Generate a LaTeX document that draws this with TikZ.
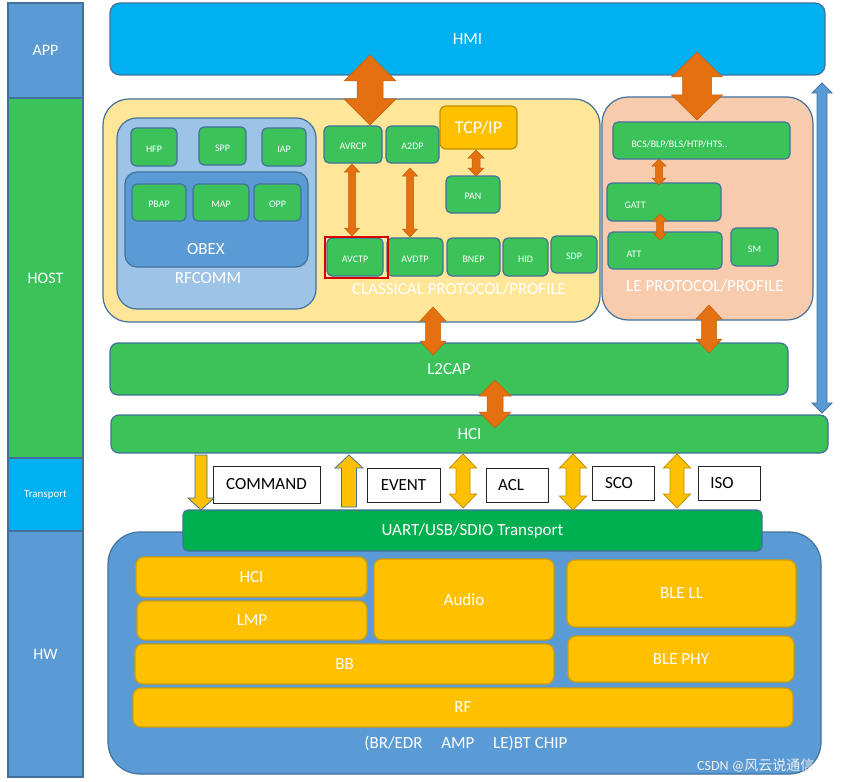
\documentclass[tikz,border=0pt]{standalone}
\usepackage{fontspec}
\setmainfont{Carlito}
\newfontfamily\cjk{Noto Sans CJK SC}
\definecolor{bord}{HTML}{41719C}
\definecolor{blueA}{HTML}{5B9BD5}
\definecolor{greenA}{HTML}{3BC35A}
\definecolor{cyanA}{HTML}{00B0F0}
\definecolor{uartG}{HTML}{00B050}
\definecolor{yelC}{HTML}{FFE699}
\definecolor{peach}{HTML}{F8CBAD}
\definecolor{rfc}{HTML}{9DC3E6}
\definecolor{gold}{HTML}{FFC000}
\definecolor{goldB}{HTML}{BF9000}
\definecolor{orangeA}{HTML}{E5700F}
\newcommand\bx[7]{\node[#6,anchor=north west,minimum width={#4pt-#2pt},minimum height={#5pt-#3pt}] (#1) at (#2,#3) {#7};}
\newcommand\dbar[7]{\filldraw[#7] ({#1-#4},{#2+#6}) -- ({#1-#5},{#2+#6}) -- (#1,#2) -- ({#1+#5},{#2+#6}) -- ({#1+#4},{#2+#6}) -- ({#1+#4},{#3-#6}) -- ({#1+#5},{#3-#6}) -- (#1,#3) -- ({#1-#5},{#3-#6}) -- ({#1-#4},{#3-#6}) -- cycle;}
\newcommand\dnar[7]{\filldraw[#7] ({#1-#4},#2) -- ({#1+#4},#2) -- ({#1+#4},{#3-#6}) -- ({#1+#5},{#3-#6}) -- (#1,#3) -- ({#1-#5},{#3-#6}) -- ({#1-#4},{#3-#6}) -- cycle;}
\newcommand\upar[7]{\filldraw[#7] ({#1-#4},#3) -- ({#1+#4},#3) -- ({#1+#4},{#2+#6}) -- ({#1+#5},{#2+#6}) -- (#1,#2) -- ({#1-#5},{#2+#6}) -- ({#1-#4},{#2+#6}) -- cycle;}
\tikzset{
  basebx/.style={inner sep=0pt,outer sep=0pt,line width=1.2pt,draw=bord,text=white},
  bigf/.style={font=\fontsize{17}{17}\selectfont},
  smallf/.style={font=\fontsize{10}{10}\selectfont},
  lcol/.style={basebx,fill=blueA,font=\fontsize{16}{16}\selectfont},
  hostcol/.style={basebx,fill=greenA,font=\fontsize{16}{16}\selectfont},
  trcol/.style={basebx,fill=cyanA,font=\fontsize{11}{11}\selectfont},
  hmibx/.style={basebx,fill=cyanA,rounded corners=10pt,bigf},
  classbx/.style={basebx,fill=yelC,rounded corners=26pt},
  lebx/.style={basebx,fill=peach,rounded corners=26pt},
  rfcbx/.style={basebx,fill=rfc,rounded corners=20pt},
  obexbx/.style={basebx,fill=blueA,rounded corners=12pt},
  gbx/.style={basebx,fill=greenA,rounded corners=5pt,smallf,text height=10.5pt,text depth=0pt},
  glong/.style={basebx,fill=greenA,rounded corners=8pt,bigf},
  tcpbx/.style={basebx,fill=gold,draw=goldB,rounded corners=6pt,font=\fontsize{18}{18}\selectfont},
  hwbx/.style={basebx,fill=blueA,rounded corners=32pt},
  uartbx/.style={basebx,fill=uartG,rounded corners=5pt,bigf},
  chip/.style={basebx,fill=gold,draw=goldB!70!gold,rounded corners=8pt,bigf},
  wbx/.style={inner sep=0pt,outer sep=0pt,line width=1pt,draw=black!85,fill=white,text=black,bigf},
  lbl/.style={text=white,bigf,inner sep=0pt},
  orarrow/.style={fill=orangeA,draw=orangeA!85!black,line width=0.5pt},
  yarrow/.style={fill=gold,draw=goldB,line width=0.8pt},
  ybarrow/.style={fill=gold,draw=bord,line width=0.8pt},
  barrow/.style={fill=blueA,draw=bord,line width=0.8pt}
}
\begin{document}
\begin{tikzpicture}[x=1pt,y=-1pt]
\useasboundingbox (0,0) rectangle (842,781);
\fill[white] (0,0) rectangle (842,781);
% left column
\bx{app}{8}{3}{83}{98}{lcol}{APP}
\bx{host}{8}{98}{83}{458}{hostcol}{HOST}
\bx{trans}{8}{458}{83}{531}{trcol}{Transport}
\bx{hwl}{8}{531}{83}{777}{lcol}{HW}
% HMI
\bx{hmi}{110}{3}{825}{75}{hmibx}{HMI}
% classical block
\bx{classic}{103}{99}{600}{322}{classbx}{}
\bx{rfcomm}{117}{118}{316}{309}{rfcbx}{}
\bx{hfp}{131}{128}{177}{166}{gbx}{HFP}
\bx{spp}{199}{127}{246}{165}{gbx}{SPP}
\bx{iap}{262}{128}{306}{166}{gbx}{IAP}
\bx{obex}{125}{172}{308}{267}{obexbx}{}
\bx{pbap}{132}{184}{186}{221}{gbx}{PBAP}
\bx{map}{193}{184}{249}{221}{gbx}{MAP}
\bx{opp}{254}{184}{301}{221}{gbx}{OPP}
\node[lbl] (obexl) at (206,249) {OBEX};
\node[lbl] (rfcl) at (208,278) {RFCOMM};
\bx{avrcp}{324}{126}{382}{163}{gbx}{AVRCP}
\bx{a2dp}{386}{126}{439}{163}{gbx}{A2DP}
\bx{tcp}{440}{106}{517}{149}{tcpbx}{TCP/IP}
\bx{pan}{446}{176}{500}{213}{gbx}{PAN}
\bx{avctp}{327}{238}{383}{276}{gbx}{AVCTP}
\bx{avdtp}{387}{238}{443}{276}{gbx}{AVDTP}
\bx{bnep}{447}{238}{500}{276}{gbx}{BNEP}
\bx{hid}{503}{238}{548}{276}{gbx}{HID}
\bx{sdp}{551}{236}{597}{273}{gbx}{SDP}
\draw[red!85!black,line width=2pt] (325,237) rectangle (387.5,278);
\node[lbl] (classl) at (459,289) {CLASSICAL PROTOCOL/PROFILE};
% LE block
\bx{le}{602}{97}{813}{320}{lebx}{}
\bx{bcs}{613}{122}{790}{159}{gbx}{}
\node[smallf,text=white,anchor=west] at (628,144) {BCS/BLP/BLS/HTP/HTS..};
\bx{gatt}{607}{183}{721}{221}{gbx}{}
\node[smallf,text=white,anchor=west] at (621,205) {GATT};
\bx{att}{608}{232}{722}{269}{gbx}{}
\node[smallf,text=white,anchor=west] at (623,254) {ATT};
\bx{sm}{731}{228}{778}{266}{gbx}{SM}
\node[lbl] (lel) at (705,286) {LE PROTOCOL/PROFILE};
% L2CAP / HCI
\bx{l2cap}{110}{343}{788}{395}{glong}{L2CAP}
\bx{hci}{111}{415}{828}{453}{glong}{HCI}
% transport row
\bx{cmd}{213}{466}{320}{503}{wbx}{COMMAND}
\bx{evt}{367}{468}{440}{502}{wbx}{EVENT}
\bx{acl}{486}{468}{548}{502}{wbx}{\hspace*{-12pt}ACL}
\bx{sco}{592}{466}{654}{500}{wbx}{\hspace*{-8pt}SCO}
\bx{iso}{698}{466}{760}{500}{wbx}{\hspace*{-14pt}ISO}
% HW block
\bx{hwb}{108}{532}{821}{774}{hwbx}{}
\bx{uart}{183}{510}{762}{551}{uartbx}{UART/USB/SDIO Transport}
\bx{hhci}{136}{557}{367}{597}{chip}{HCI}
\bx{lmp}{137}{601}{367}{640}{chip}{LMP}
\bx{audio}{374}{559}{554}{640}{chip}{Audio}
\bx{blell}{567}{560}{796}{627}{chip}{BLE LL}
\bx{bb}{135}{644}{554}{684}{chip}{BB}
\bx{blephy}{568}{636}{794}{682}{chip}{BLE PHY}
\bx{rf}{133}{688}{793}{727}{chip}{RF}
\node[lbl] (chipl) at (466,743) {(BR/EDR\hspace{1.1em}AMP\hspace{1.1em}LE)BT CHIP};
% arrows
\dbar{370}{55}{125}{13}{26}{26}{orarrow}
\dbar{697}{52}{120}{14.5}{25.5}{25}{orarrow}
\dbar{433}{307}{355}{7.5}{13}{14}{orarrow}
\dbar{709}{305}{353}{7.5}{13}{14}{orarrow}
\dbar{495}{380}{428}{8}{16}{16}{orarrow}
\dbar{352}{164}{236}{3.5}{7.5}{8}{orarrow}
\dbar{410}{168}{237}{3.5}{7.5}{8}{orarrow}
\dbar{476}{150}{176}{4}{8}{8}{orarrow}
\dbar{659}{159}{185}{3.5}{7}{7}{orarrow}
\dbar{660}{214}{240}{3.5}{7}{7}{orarrow}
\dbar{822}{83}{413}{5}{10}{10}{barrow}
\dnar{201}{455}{510}{6}{13}{12}{ybarrow}
\upar{349}{455}{507}{7.5}{14}{13}{ybarrow}
\dbar{463}{454}{508}{7}{13.5}{14}{yarrow}
\dbar{573}{454}{510}{7}{13.5}{14}{yarrow}
\dbar{677}{454}{508}{7}{13.5}{14}{yarrow}
% watermark
\node[anchor=west,text=white!88!gray,inner sep=0pt,font=\fontsize{14}{14}\selectfont] (wm) at (697,765) {CSDN @{\cjk 风云说通信}};
\end{tikzpicture}
\end{document}
